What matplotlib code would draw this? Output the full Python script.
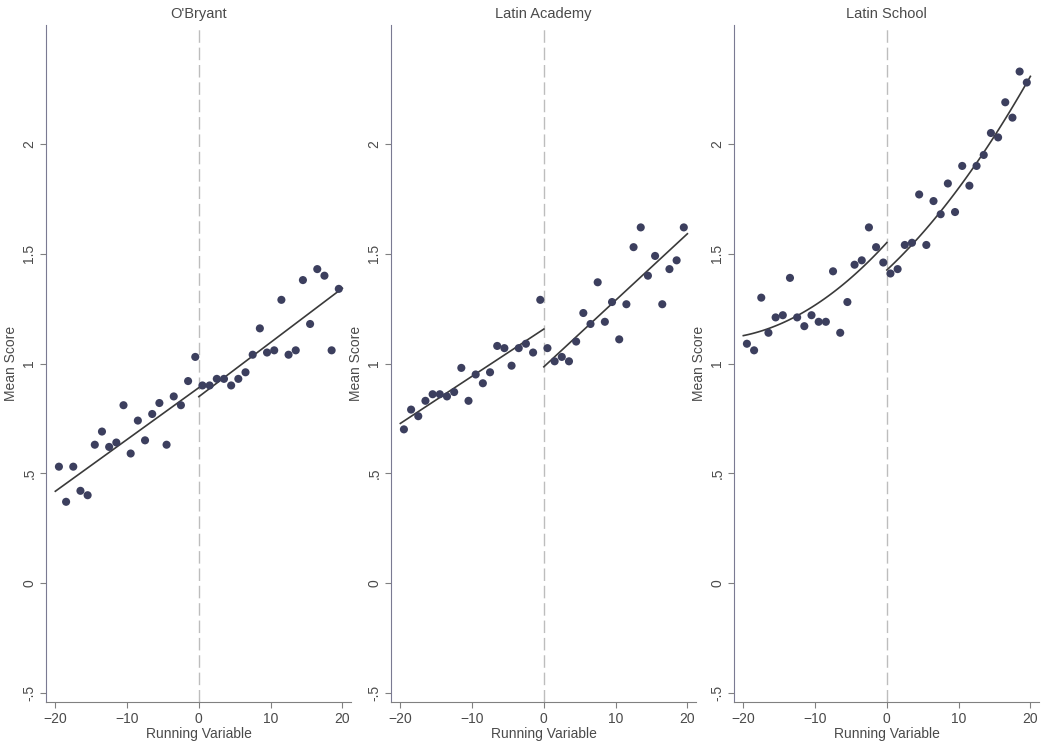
import numpy as np
import matplotlib
matplotlib.use("Agg")
import matplotlib.pyplot as plt

plt.rcParams['font.family'] = ['Liberation Sans', 'DejaVu Sans']

# bin centres of the running variable
run_left = [-19.5, -18.5, -17.5, -16.5, -15.5, -14.5, -13.5, -12.5, -11.5, -10.5,
            -9.5, -8.5, -7.5, -6.5, -5.5, -4.5, -3.5, -2.5, -1.5, -0.5]
run_right = [0.5, 1.5, 2.5, 3.5, 4.5, 5.5, 6.5, 7.5, 8.5, 9.5,
             10.5, 11.5, 12.5, 13.5, 14.5, 15.5, 16.5, 17.5, 18.5, 19.5]

# mean scores per bin
obryant_left = [0.53, 0.37, 0.53, 0.42, 0.40, 0.63, 0.69, 0.62, 0.64, 0.81,
                0.59, 0.74, 0.65, 0.77, 0.82, 0.63, 0.85, 0.81, 0.92, 1.03]
obryant_right = [0.90, 0.90, 0.93, 0.93, 0.90, 0.93, 0.96, 1.04, 1.16, 1.05,
                 1.06, 1.29, 1.04, 1.06, 1.38, 1.18, 1.43, 1.40, 1.06, 1.34]

academy_left = [0.70, 0.79, 0.76, 0.83, 0.86, 0.86, 0.85, 0.87, 0.98, 0.83,
                0.95, 0.91, 0.96, 1.08, 1.07, 0.99, 1.07, 1.09, 1.05, 1.29]
academy_right = [1.07, 1.01, 1.03, 1.01, 1.10, 1.23, 1.18, 1.37, 1.19, 1.28,
                 1.11, 1.27, 1.53, 1.62, 1.40, 1.49, 1.27, 1.43, 1.47, 1.62]

school_left = [1.09, 1.06, 1.30, 1.14, 1.21, 1.22, 1.39, 1.21, 1.17, 1.22,
               1.19, 1.19, 1.42, 1.14, 1.28, 1.45, 1.47, 1.62, 1.53, 1.46]
school_right = [1.41, 1.43, 1.54, 1.55, 1.77, 1.54, 1.74, 1.68, 1.82, 1.69,
                1.90, 1.81, 1.90, 1.95, 2.05, 2.03, 2.19, 2.12, 2.33, 2.28]

# fitted curves (intercept at 0, slope, quadratic term) for each side
fits = {
    "O'Bryant": [(0.890, 0.0236, 0.0), (0.849, 0.0247, 0.0)],
    "Latin Academy": [(1.157, 0.0215, 0.0), (0.985, 0.0303, 0.0)],
    "Latin School": [(1.551, 0.0358, 0.00073), (1.426, 0.0305, 0.00068)],
}

panels = [("O'Bryant", obryant_left, obryant_right),
          ("Latin Academy", academy_left, academy_right),
          ("Latin School", school_left, school_right)]

ytick_vals = [-0.5, 0, 0.5, 1, 1.5, 2]
ytick_labels = ['-.5', '0', '.5', '1', '1.5', '2']
xtick_vals = [-20, -10, 0, 10, 20]

W, H = 1045, 744
fig = plt.figure(figsize=(W / 100, H / 100), dpi=100)
lefts = [46, 391, 734]

dot_col = '#3c3f5e'
text_col = '#4a4a4a'

for i, (name, yl, yr) in enumerate(panels):
    ax = fig.add_axes([lefts[i] / W, 42 / H, 305 / W, 677 / H])
    ax.axvline(0, color='#bdbdbd', lw=1.0, dashes=(9, 3.5), zorder=1)

    ax.scatter(run_left, yl, s=34, color=dot_col, edgecolors='none', zorder=3)
    ax.scatter(run_right, yr, s=34, color=dot_col, edgecolors='none', zorder=3)

    (a0, b0, c0), (a1, b1, c1) = fits[name]
    xs = np.linspace(-20, 0, 60)
    ax.plot(xs, a0 + b0 * xs + c0 * xs ** 2, color='#3a3a3a', lw=1.2, zorder=2)
    xs = np.linspace(0, 20, 60)
    ax.plot(xs, a1 + b1 * xs + c1 * xs ** 2, color='#3a3a3a', lw=1.2, zorder=2)

    ax.set_xlim(-21.3, 21.2)
    ax.set_ylim(-0.542, 2.542)
    ax.set_xticks(xtick_vals)
    ax.set_yticks(ytick_vals)
    ax.set_yticklabels(ytick_labels, rotation=90, va='center')

    for s in ['top', 'right']:
        ax.spines[s].set_visible(False)
    ax.spines['left'].set_color('#7a7a92')
    ax.spines['bottom'].set_color('#808080')
    ax.tick_params(axis='both', colors='#808080', labelcolor=text_col,
                   labelsize=10, length=4, width=0.8, pad=3)

    ax.set_title(name, fontsize=10.5, color=text_col, pad=5)
    ax.set_xlabel('Running Variable', fontsize=10, color=text_col, labelpad=1)
    ax.set_ylabel('Mean Score', fontsize=10, color=text_col, labelpad=3)

fig.savefig('out.png', dpi=100, facecolor='white')
